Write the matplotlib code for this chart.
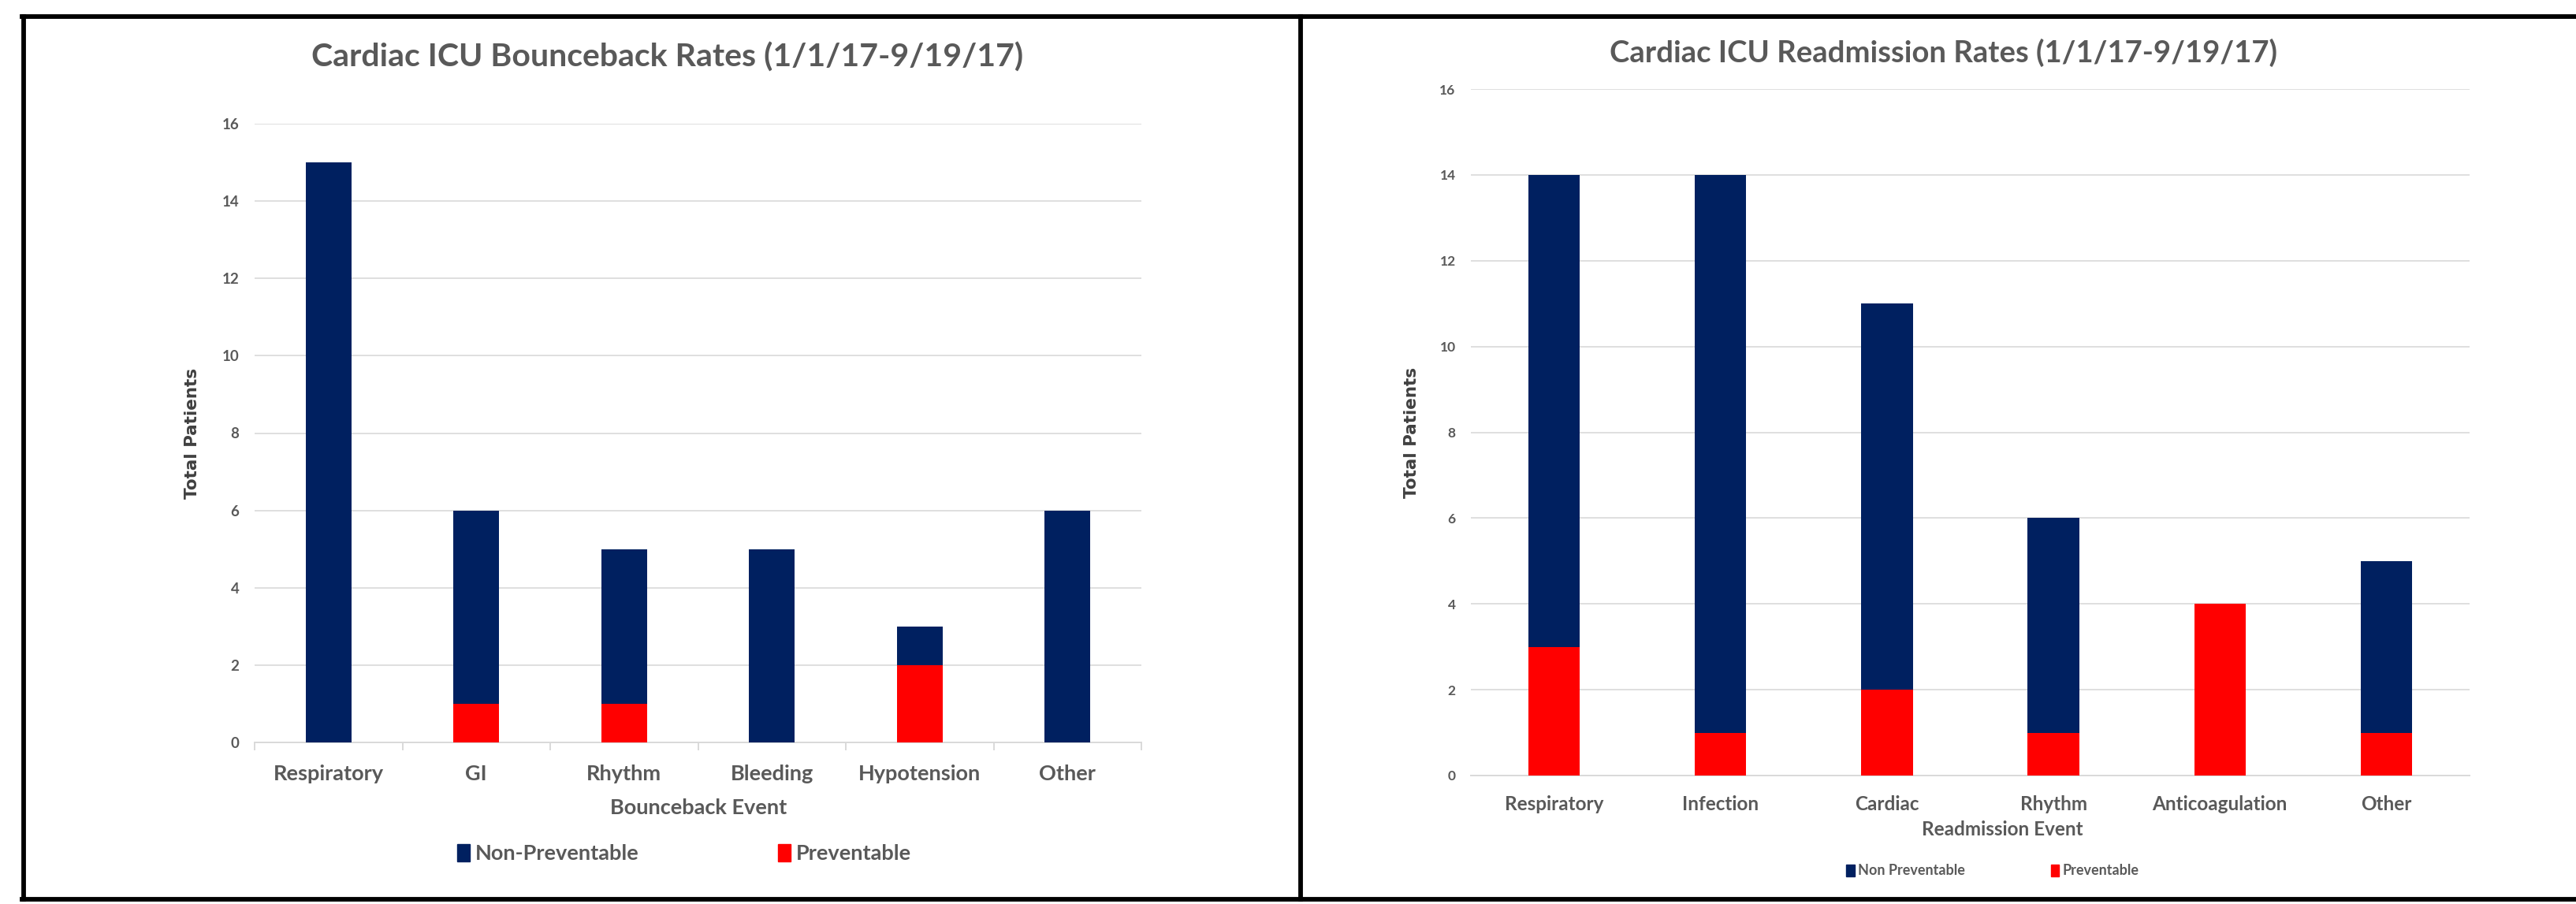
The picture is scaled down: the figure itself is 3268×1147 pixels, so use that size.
import matplotlib
matplotlib.use("Agg")
import matplotlib.pyplot as plt
from matplotlib.patches import Patch
from matplotlib.lines import Line2D

# bounceback chart
bb_events = ["Respiratory", "GI", "Rhythm", "Bleeding", "Hypotension", "Other"]
bb_prev = [0, 1, 1, 0, 2, 0]
bb_nonprev = [15, 5, 4, 5, 1, 6]

# readmission chart
ra_events = ["Respiratory", "Infection", "Cardiac", "Rhythm", "Anticoagulation", "Other"]
ra_prev = [3, 1, 2, 1, 4, 1]
ra_nonprev = [11, 13, 9, 5, 0, 4]

NAVY = "#002060"
RED = "#FF0000"
GRAY = "#595959"
GRID = "#D9D9D9"
FONT = ["Lato", "DejaVu Sans"]

W, H = 3268, 1147
fig = plt.figure(figsize=(W / 100, H / 100), dpi=100)
fig.patch.set_facecolor("white")


def fx(px):
    return px / W


def fy(py):
    return 1 - py / H


def draw(ax, events, prev, nonprev, tick_fs, ytick_fs, sep_ticks, xpad):
    x = range(len(events))
    ax.bar(x, prev, width=0.31, color=RED, zorder=3)
    ax.bar(x, nonprev, width=0.31, bottom=prev, color=NAVY, zorder=3)
    ax.set_xlim(-0.5, len(events) - 0.5)
    ax.set_ylim(0, 16)
    ax.set_yticks(range(0, 17, 2))
    ax.grid(axis="y", color=GRID, lw=1.2, zorder=0)
    for s in ["top", "right", "left"]:
        ax.spines[s].set_visible(False)
    ax.spines["bottom"].set_color(GRID)
    ax.spines["bottom"].set_linewidth(1.4)
    ax.set_xticks(list(x))
    ax.set_xticklabels(events, fontsize=tick_fs, color=GRAY, family=FONT, fontweight="bold")
    ax.tick_params(axis="x", length=0, pad=xpad)
    ax.tick_params(axis="y", length=0, pad=14, labelsize=ytick_fs, labelcolor=GRAY)
    for t in ax.get_yticklabels():
        t.set_family(FONT)
        t.set_fontweight("bold")
    if sep_ticks:
        ax.set_xticks([i - 0.5 for i in range(len(events) + 1)], minor=True)
        ax.tick_params(axis="x", which="minor", length=7, color=GRID, width=1.4)


# left panel
ax1 = fig.add_axes([fx(323), fy(942), fx(1448 - 323), (942 - 157) / H])
draw(ax1, bb_events, bb_prev, bb_nonprev, 19.5, 13.5, True, 20)
ax1.set_ylabel("Total Patients", fontsize=15.5, fontweight="bold", color="#404040",
               family=["DejaVu Sans"])
ax1.yaxis.set_label_coords(-0.061, 0.5)
fig.text(fx(847), fy(73), "Cardiac ICU Bounceback Rates (1/1/17-9/19/17)", ha="center",
         va="center", fontsize=29.5, fontweight="bold", color=GRAY, family=FONT)
fig.text(fx(886), fy(1025), "Bounceback Event", ha="center", va="center", fontsize=19.5,
         fontweight="bold", color=GRAY, family=FONT)
h1 = [Patch(color=NAVY), Patch(color=RED)]
fig.legend(h1, ["Non-Preventable", "Preventable"], loc="center",
           bbox_to_anchor=(fx(868), fy(1083)), ncol=2, frameon=False,
           handlelength=0.6, handleheight=0.9, handletextpad=0.25, columnspacing=6.5,
           prop={"family": FONT, "size": 19.5, "weight": "bold"}, labelcolor=GRAY)

# right panel
ax2 = fig.add_axes([fx(1866), fy(984), fx(3133 - 1866), (984 - 113) / H])
draw(ax2, ra_events, ra_prev, ra_nonprev, 17.5, 12.5, False, 18)
ax2.set_ylabel("Total Patients", fontsize=15.5, fontweight="bold", color="#404040",
               family=["DejaVu Sans"])
ax2.yaxis.set_label_coords(-0.051, 0.5)
fig.text(fx(2465), fy(67), "Cardiac ICU Readmission Rates (1/1/17-9/19/17)", ha="center",
         va="center", fontsize=27.5, fontweight="bold", color=GRAY, family=FONT)
fig.text(fx(2540), fy(1053), "Readmission Event", ha="center", va="center", fontsize=17.5,
         fontweight="bold", color=GRAY, family=FONT)
h2 = [Patch(color=NAVY), Patch(color=RED)]
fig.legend(h2, ["Non Preventable", "Preventable"], loc="center",
           bbox_to_anchor=(fx(2528), fy(1105)), ncol=2, frameon=False,
           handlelength=0.6, handleheight=0.9, handletextpad=0.25, columnspacing=6.0,
           prop={"family": FONT, "size": 13, "weight": "bold"}, labelcolor=GRAY)

# panel borders
lw = 4.2
fig.add_artist(Line2D([fx(30), fx(30)], [fy(21), fy(1141)], color="black", lw=lw))
fig.add_artist(Line2D([fx(1650), fx(1650)], [fy(21), fy(1141)], color="black", lw=lw))
fig.add_artist(Line2D([fx(28), 1], [fy(21), fy(21)], color="black", lw=lw))
fig.add_artist(Line2D([fx(28), 1], [fy(1141), fy(1141)], color="black", lw=lw))

fig.savefig("out.png", dpi=100, facecolor="white")
